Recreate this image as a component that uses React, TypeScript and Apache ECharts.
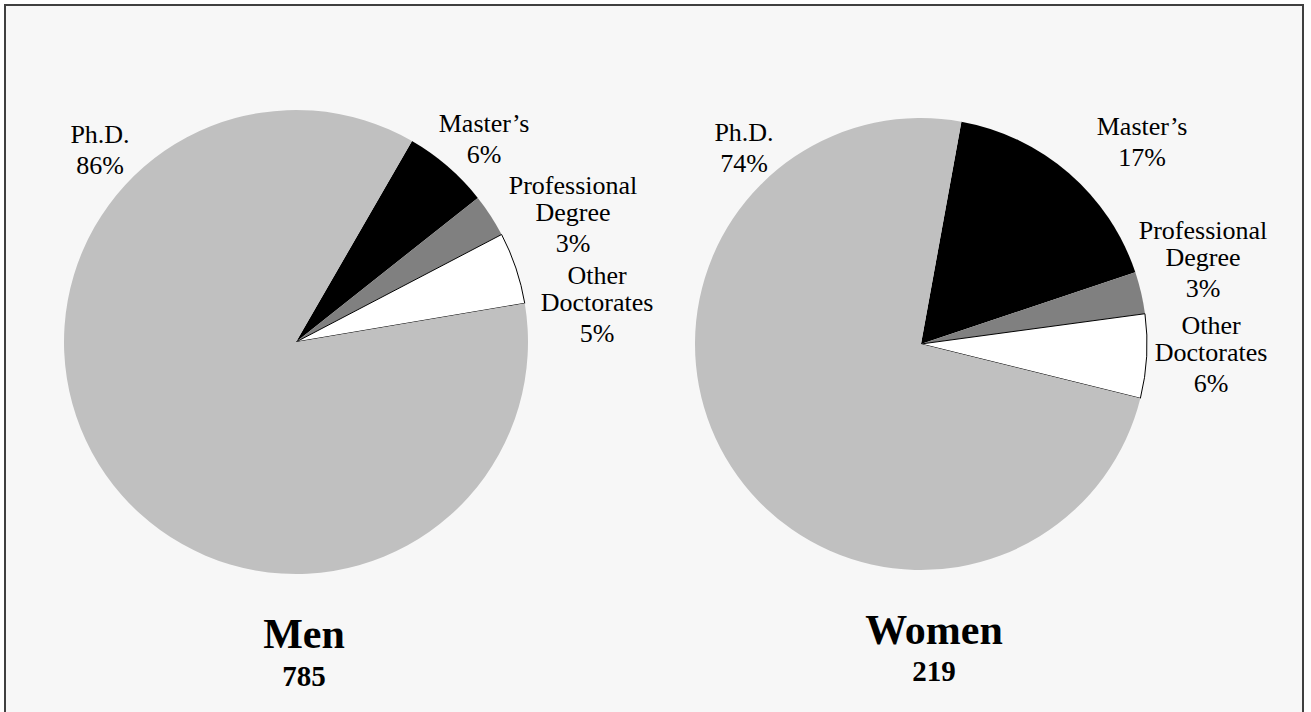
import React, { useEffect, useRef } from "react";
import * as echarts from "echarts";

// ---- data ----
const categories = ["Master\u2019s", "Professional Degree", "Other Doctorates", "Ph.D."];
const menPercent = [6, 3, 5, 86];
const womenPercent = [17, 3, 6, 74];
const groupNames = ["Men", "Women"];
const groupTotals = ["785", "219"];

// ---- styling / layout (not data) ----
const sliceColors = ["#000000", "#808080", "#ffffff", "#c0c0c0"];
const menLabelPos = [
  [484, 110],
  [573, 172],
  [597, 262],
  [100, 121],
];
const womenLabelPos = [
  [1142, 113],
  [1203, 217],
  [1211, 312],
  [744, 119],
];
const FONT = "Liberation Serif";

function makeSeries(values: number[], center: [number, number], radius: number, startAngle: number, pos: number[][]) {
  return {
    type: "pie",
    center,
    radius,
    startAngle,
    clockwise: true,
    avoidLabelOverlap: false,
    data: categories.map((name, i) => ({
      name,
      value: values[i],
      itemStyle: {
        color: sliceColors[i],
        borderColor: i === 2 ? "#000" : sliceColors[i],
        borderWidth: i === 2 ? 1 : 0,
      },
    })),
    label: {
      show: true,
      position: "outside",
      fontFamily: FONT,
      fontSize: 26,
      color: "#000",
      formatter: (p: any) => {
        const lines = String(p.name).split(" ").map((s) => `{n|${s}}`);
        return lines.join("\n") + `\n{p|${p.value}%}`;
      },
      rich: {
        n: { fontFamily: FONT, fontSize: 26, lineHeight: 27, color: "#000", align: "center" },
        p: { fontFamily: FONT, fontSize: 26, lineHeight: 34, color: "#000", align: "center" },
      },
    },
    labelLine: { show: false },
    labelLayout: (params: any) => {
      const xy = pos[params.dataIndex];
      return { x: xy[0], y: xy[1], align: "center", verticalAlign: "top" };
    },
    emphasis: { disabled: true },
  };
}

export default function App() {
  const ref = useRef<HTMLDivElement>(null);
  useEffect(() => {
    if (!ref.current) return;
    const chart = echarts.init(ref.current, null, { renderer: "svg" });
    chart.setOption({
      animation: false,
      backgroundColor: "#ffffff",
      graphic: [
        {
          type: "rect",
          z: -10,
          shape: { x: 5, y: 5, width: 1298, height: 730 },
          style: { fill: "#f7f7f7", stroke: "#404040", lineWidth: 2 },
        },
        {
          type: "text",
          x: 304,
          y: 634,
          style: { text: groupNames[0], font: `bold 42px ${FONT}`, fill: "#000", align: "center", verticalAlign: "middle" },
        },
        {
          type: "text",
          x: 304,
          y: 676,
          style: { text: groupTotals[0], font: `bold 29px ${FONT}`, fill: "#000", align: "center", verticalAlign: "middle" },
        },
        {
          type: "text",
          x: 934,
          y: 630,
          style: { text: groupNames[1], font: `bold 42px ${FONT}`, fill: "#000", align: "center", verticalAlign: "middle" },
        },
        {
          type: "text",
          x: 934,
          y: 671,
          style: { text: groupTotals[1], font: `bold 29px ${FONT}`, fill: "#000", align: "center", verticalAlign: "middle" },
        },
      ],
      series: [
        makeSeries(menPercent, [296, 342], 232, 60, menLabelPos),
        makeSeries(womenPercent, [921, 344], 226, 79.7, womenLabelPos),
      ],
    });
    return () => chart.dispose();
  }, []);
  return (
    <div
      ref={ref}
      style={{ position: "absolute", left: 0, top: 0, width: 1311, height: 712 }}
    />
  );
}
